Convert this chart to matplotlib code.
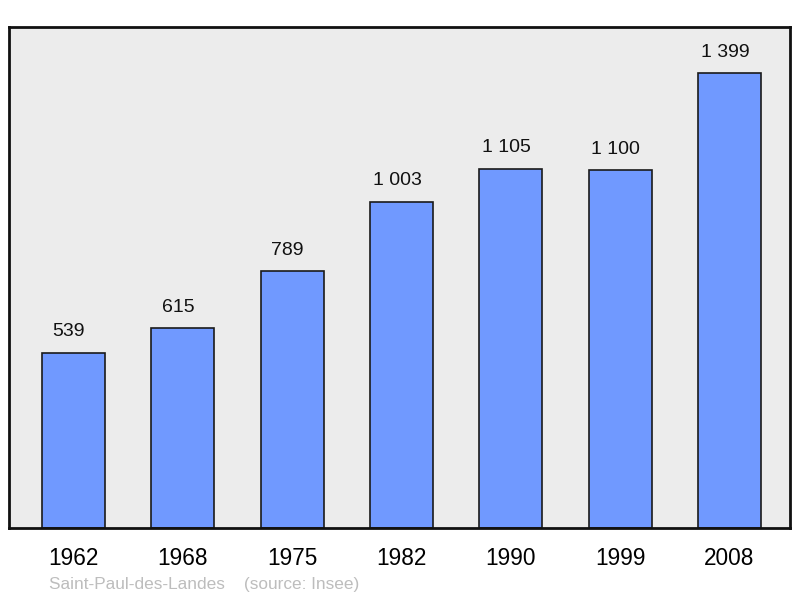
import matplotlib
matplotlib.use("Agg")
import matplotlib.pyplot as plt

# Bevölkerungsdaten
annees = ["1962", "1968", "1975", "1982", "1990", "1999", "2008"]
population = [539, 615, 789, 1003, 1105, 1100, 1399]
etiquettes = ["539", "615", "789", "1 003", "1 105", "1 100", "1 399"]

plt.rcParams['font.family'] = ['Liberation Sans', 'DejaVu Sans']

fig = plt.figure(figsize=(8.0, 5.98), dpi=100)
ax = fig.add_axes([9 / 800, 1 - 528 / 598, 781 / 800, 501 / 598])
ax.set_facecolor("#ececec")

x = list(range(len(annees)))
ax.bar(x, population, width=0.576, color="#7099ff",
       edgecolor="#1a1a1a", linewidth=1.2, zorder=2)

for xi, v, lab in zip(x, population, etiquettes):
    ax.annotate(lab, (xi, v), xytext=(-3.3, 9), textcoords="offset points",
                ha="center", va="bottom", fontsize=14, color="#111111")

ax.set_xlim(-0.59, 6.553)
ax.set_ylim(0, 1541)
ax.set_xticks(x)
ax.set_xticklabels(annees, fontsize=16.3)
ax.tick_params(axis="x", length=0, pad=14)
ax.set_yticks([])
for s in ax.spines.values():
    s.set_linewidth(2)
    s.set_color("#111111")

fig.text(49 / 800, 1 - 584 / 598, "Saint-Paul-des-Landes    (source: Insee)",
         fontsize=12.4, color="#bdbdbd", ha="left", va="center")

fig.savefig("out.png", dpi=100)
